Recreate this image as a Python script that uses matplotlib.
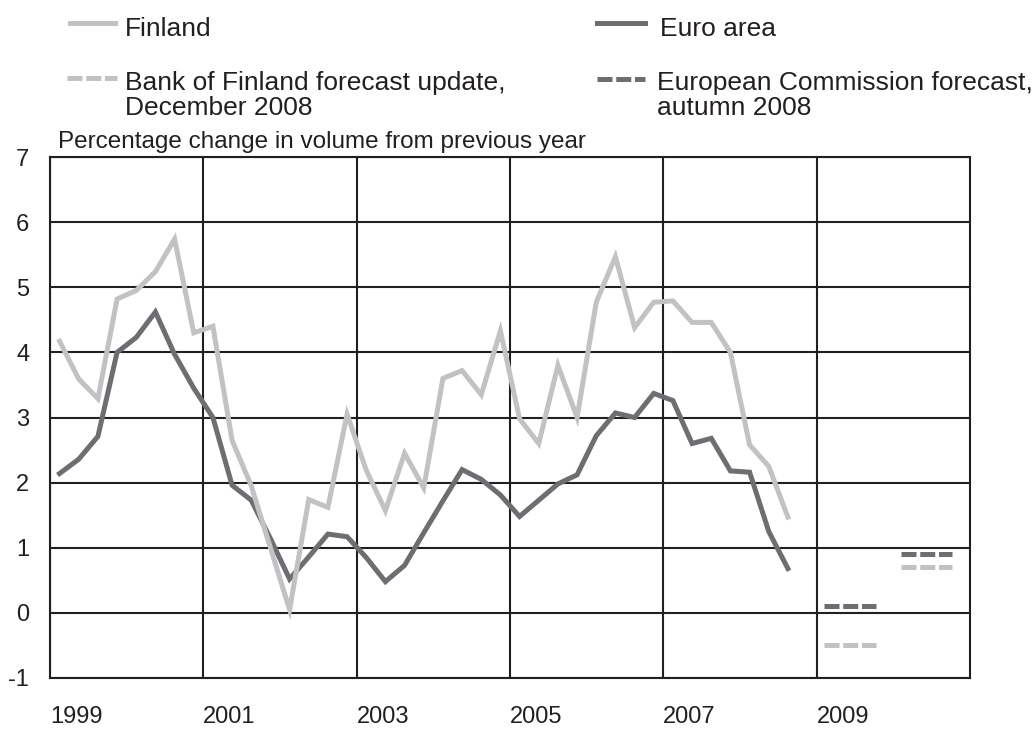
import numpy as np
import matplotlib.pyplot as plt
from matplotlib.lines import Line2D

plt.rcParams['font.family'] = ['Liberation Sans', 'DejaVu Sans']
plt.rcParams['axes.unicode_minus'] = False

# quarterly GDP growth, 1999Q1 - 2008Q3
finland = [4.17, 3.59, 3.29, 4.82, 4.95, 5.24, 5.74, 4.30, 4.40, 2.65,
           1.95, 1.00, 0.05, 1.74, 1.62, 3.05, 2.19, 1.57, 2.45, 1.92,
           3.60, 3.72, 3.35, 4.33, 2.98, 2.60, 3.80, 3.00, 4.77, 5.47,
           4.38, 4.77, 4.79, 4.46, 4.46, 4.00, 2.58, 2.25, 1.47]
euro = [2.14, 2.36, 2.71, 4.00, 4.23, 4.62, 3.97, 3.45, 3.00, 1.96,
        1.73, 1.14, 0.52, 0.86, 1.21, 1.17, 0.85, 0.48, 0.73, 1.23,
        1.72, 2.20, 2.05, 1.81, 1.48, 1.73, 1.98, 2.12, 2.72, 3.07,
        3.00, 3.37, 3.26, 2.60, 2.68, 2.18, 2.16, 1.25, 0.68]

fc_years = [2009, 2010]
finland_fc = [-0.5, 0.7]
euro_fc = [0.1, 0.9]

year_labels = ['1999', '2001', '2003', '2005', '2007', '2009']

light = '#c1c2c4'
dark = '#6d6e71'
black = '#231f20'

quarters = 1999.125 + 0.25 * np.arange(len(finland))

W, H = 1036, 730
fig = plt.figure(figsize=(W / 100, H / 100), dpi=100)
ax = fig.add_axes([50 / W, 1 - 678 / H, 920 / W, 521 / H])

lw = 3.6
ax.plot(quarters, euro, color=dark, lw=lw, solid_joinstyle='miter', zorder=3)
ax.plot(quarters, finland, color=light, lw=lw, solid_joinstyle='miter', zorder=3)

dash = (0, (3, 0.75))
for yr, f, e in zip(fc_years, finland_fc, euro_fc):
    ax.plot([yr + 0.1, yr + 0.77], [e, e], color=dark, lw=lw, ls=dash,
            dash_capstyle='butt', zorder=3)
    ax.plot([yr + 0.1, yr + 0.77], [f, f], color=light, lw=lw, ls=dash,
            dash_capstyle='butt', zorder=3)

ax.set_xlim(1999, 2011)
ax.set_ylim(-1, 7)
ax.set_xticks([int(y) for y in year_labels])
ax.set_xticklabels(year_labels, ha='left')
ax.set_yticks(range(-1, 8))
ax.tick_params(length=0, labelsize=17, colors=black)
ax.tick_params(axis='x', pad=20)
ax.tick_params(axis='y', pad=15)
ax.grid(True, color=black, lw=1.5)
ax.set_axisbelow(True)
for s in ax.spines.values():
    s.set_color(black)
    s.set_linewidth(1.5)


def fx(px):
    return px / W


def fy(py):
    return 1 - py / H


fs = 19
fig.add_artist(Line2D([fx(70), fx(115)], [fy(23), fy(23)], color=light, lw=lw))
fig.text(fx(125), fy(36), 'Finland', fontsize=fs, color=black, va='baseline')
fig.add_artist(Line2D([fx(597), fx(645)], [fy(23), fy(23)], color=dark, lw=lw))
fig.text(fx(660), fy(36), 'Euro area', fontsize=fs, color=black, va='baseline')

fig.add_artist(Line2D([fx(67), fx(117)], [fy(78), fy(78)], color=light, lw=lw,
                      ls=(0, (3, 0.75)), dash_capstyle='butt'))
fig.text(fx(125), fy(90), 'Bank of Finland forecast update,', fontsize=fs,
         color=black, va='baseline')
fig.text(fx(125), fy(115), 'December 2008', fontsize=fs, color=black, va='baseline')
fig.add_artist(Line2D([fx(597), fx(645)], [fy(79), fy(79)], color=dark, lw=lw,
                      ls=(0, (3, 0.75)), dash_capstyle='butt'))
fig.text(fx(657), fy(90), 'European Commission forecast,', fontsize=fs,
         color=black, va='baseline')
fig.text(fx(657), fy(115), 'autumn 2008', fontsize=fs, color=black, va='baseline')

fig.text(fx(58), fy(148), 'Percentage change in volume from previous year',
         fontsize=17.5, color=black, va='baseline')

fig.savefig('out.png', dpi=100)
